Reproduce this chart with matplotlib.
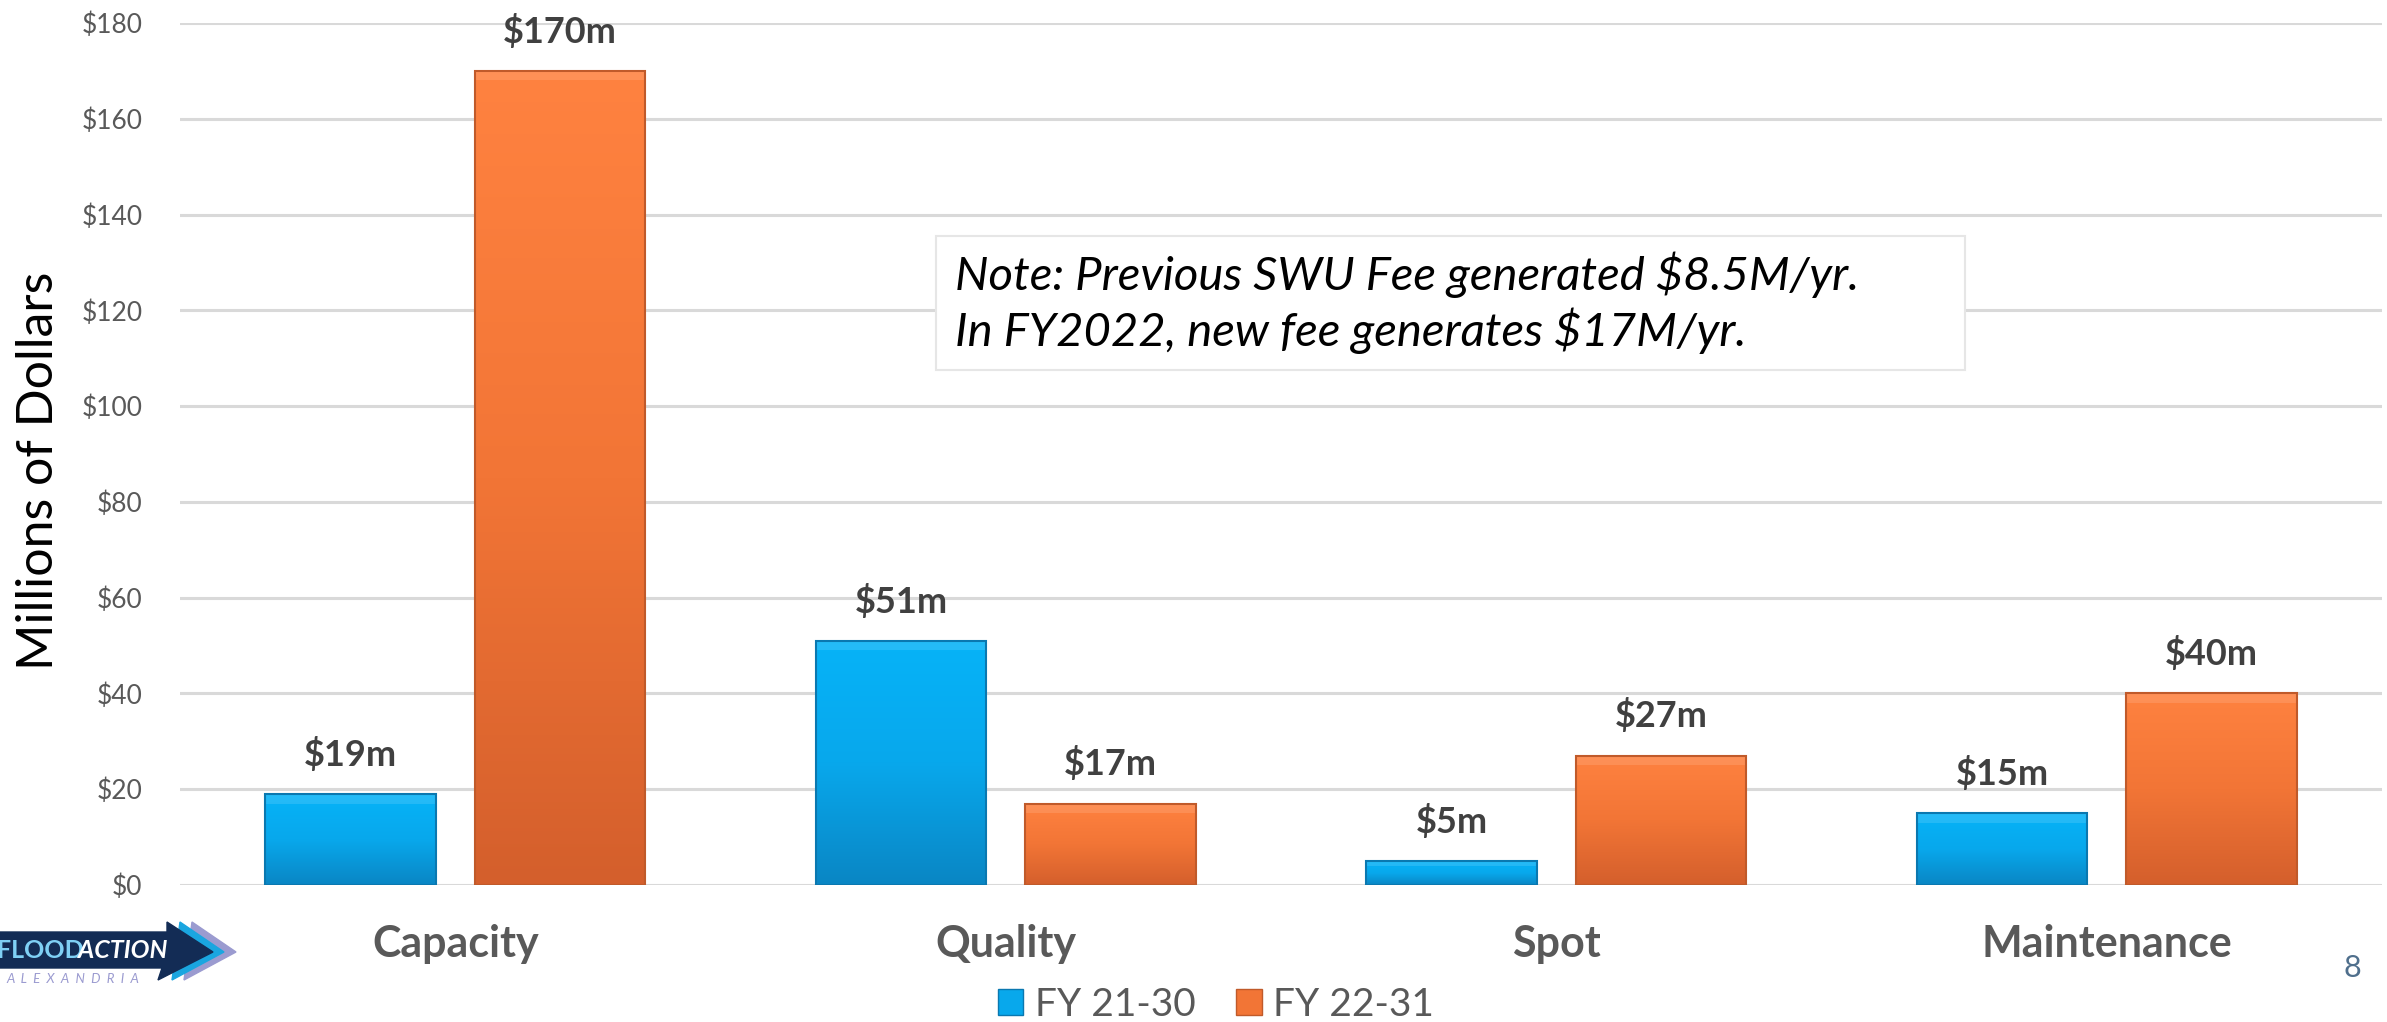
import numpy as np
import matplotlib
matplotlib.use("Agg")
import matplotlib.pyplot as plt
from matplotlib.patches import Patch, Polygon, Rectangle
from matplotlib.colors import LinearSegmentedColormap

categories = ["Capacity", "Quality", "Spot", "Maintenance"]
fy21_30 = [19, 51, 5, 15]
fy22_31 = [170, 17, 27, 40]
series_names = ["FY 21-30", "FY 22-31"]
yticks = [0, 20, 40, 60, 80, 100, 120, 140, 160, 180]
ytick_labels = ["$0", "$20", "$40", "$60", "$80", "$100", "$120", "$140", "$160", "$180"]
note_lines = ["Note: Previous SWU Fee generated $8.5M/yr.",
              "In FY2022, new fee generates $17M/yr."]

W, H = 2387, 1022
fig = plt.figure(figsize=(W / 100, H / 100), dpi=100)
fig.patch.set_facecolor("white")

ax = fig.add_axes([180 / W, (H - 885) / H, 2202 / W, (885 - 23) / H])
ax.set_xlim(-0.5, 3.5)
ax.set_ylim(0, 180)
ax.set_yticks(yticks)
ax.set_yticklabels(ytick_labels, fontsize=19, color="#595959", family="Lato")
ax.tick_params(axis="y", length=0, pad=27)
ax.tick_params(axis="x", length=0, pad=28)
ax.set_xticks(range(len(categories)))
ax.set_xticklabels(categories, fontsize=31, fontweight="bold", color="#595959", family="Lato")
for s in ax.spines.values():
    s.set_visible(False)
ax.grid(axis="y", color="#d9d9d9", linewidth=2.2)
ax.set_axisbelow(True)
ax.set_ylabel("Millions of Dollars", fontsize=36, family="Lato", color="black")
ax.yaxis.set_label_coords(-0.0535, 0.48)

blue_cmap = LinearSegmentedColormap.from_list("b", ["#0a86c4", "#08a8ec", "#06b3f8"])
orange_cmap = LinearSegmentedColormap.from_list("o", ["#d45f2c", "#f27536", "#ff8240"])

x = np.arange(len(categories))
bw = 0.31
off = 0.19

def grad_bars(xpos, vals, cmap, edge, name):
    bars = ax.bar(xpos, vals, width=bw, color="none", edgecolor=edge, linewidth=1.5, label=name, zorder=3)
    grad = np.linspace(0, 1, 256).reshape(-1, 1)
    for b in bars:
        x0, y0 = b.get_x(), b.get_y()
        w, h = b.get_width(), b.get_height()
        im = ax.imshow(grad, cmap=cmap, origin="lower", aspect="auto",
                       extent=[x0, x0 + w, y0, y0 + h], zorder=2)
        im.set_clip_path(b)
        hh = min(2.0, h * 0.2)
        ax.fill_between([x0, x0 + w], y0 + h - hh, y0 + h, color="white", alpha=0.12, zorder=2.5, linewidth=0)
    return bars

b1 = grad_bars(x - off, fy21_30, blue_cmap, "#0a78b0", series_names[0])
b2 = grad_bars(x + off, fy22_31, orange_cmap, "#c05a2a", series_names[1])
ax.set_xlim(-0.5, 3.5)
ax.set_ylim(0, 180)

for bars, vals in ((b1, fy21_30), (b2, fy22_31)):
    for b, v in zip(bars, vals):
        ax.annotate(f"${v}m", (b.get_x() + b.get_width() / 2, v), xytext=(0, 16),
                    textcoords="offset points", ha="center", va="bottom",
                    fontsize=26, fontweight="bold", color="#404040", family="Lato")

# note box
ax.add_patch(Rectangle((0.3433, 0.5974), 0.4673, 0.1555, transform=ax.transAxes,
                       facecolor="white", edgecolor="#e6e6e6", linewidth=1.5, zorder=5))
ax.text(0.352, 0.675, "\n".join(note_lines), transform=ax.transAxes,
        fontsize=34, style="italic", family="Lato", color="black", linespacing=1.25,
        va="center", ha="left", zorder=6)

# legend
handles = [Patch(facecolor="#08a8ec", edgecolor="#0a78b0"), Patch(facecolor="#f27536", edgecolor="#c05a2a")]
fig.legend(handles, series_names, loc="center", bbox_to_anchor=(1216 / W, 1 - 1005 / H),
           ncol=2, frameon=False, handlelength=0.65, handleheight=0.65,
           handletextpad=0.3, columnspacing=1.05, labelcolor="#595959",
           prop=dict(family="Lato", size=28), borderpad=0)

# page number
fig.text(2352 / W, 1 - 968 / H, "8", fontsize=22, color="#4f6f8c", ha="center", va="center", family="Lato")

# logo overlay in pixel coordinates
lax = fig.add_axes([0, 0, 1, 1], zorder=10)
lax.set_xlim(0, W)
lax.set_ylim(H, 0)
lax.axis("off")
lax.patch.set_alpha(0)
lax.add_patch(Polygon([[192, 922], [236, 952], [184, 980]], closed=True, color="#9b9bd0"))
lax.add_patch(Polygon([[180, 922], [224, 952], [172, 980]], closed=True, color="#1aa6e0"))
lax.add_patch(Polygon([[0, 932], [167, 932], [167, 922], [213, 952], [158, 980], [162, 968], [0, 968]],
                      closed=True, color="#132c55"))
lax.text(-3, 951, "FLOOD", color="#7fd0f5", fontsize=18, fontweight="bold", family="Lato", va="center", ha="left")
lax.text(78, 951, "ACTION", color="white", fontsize=18, fontweight="bold", style="italic", family="Lato",
         va="center", ha="left")
lax.text(6, 979, "A  L  E  X  A  N  D  R  I  A", color="#9b9bd0", fontsize=9.5,
         style="italic", family="Lato", va="center", ha="left")

fig.savefig("out.png", dpi=100, facecolor="white")
